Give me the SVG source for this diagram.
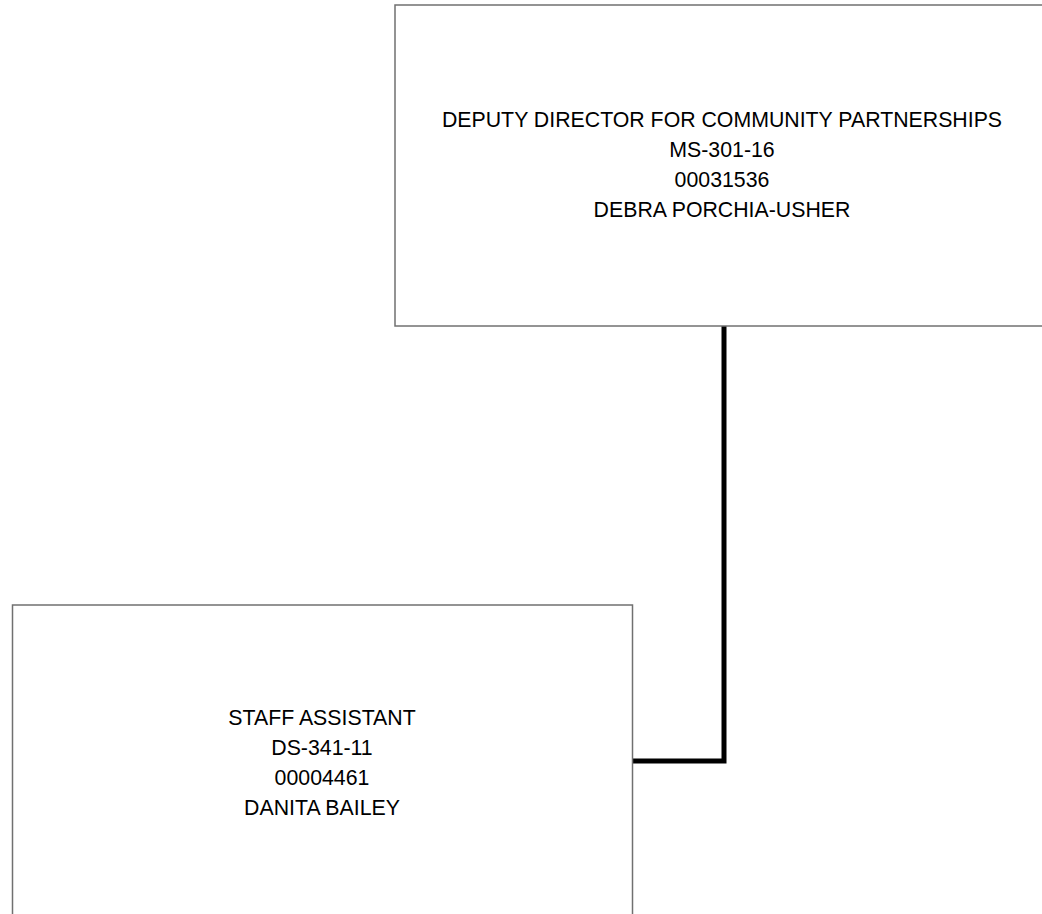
<svg xmlns="http://www.w3.org/2000/svg" width="1042" height="914" viewBox="0 0 1042 914">
  <style>
    .box { fill: #ffffff; stroke: #707070; stroke-width: 1.5; }
    .lbl { font-family: "Liberation Sans", Arial, sans-serif; font-size: 21.3px; fill: #000000; text-anchor: middle; }
    .conn { fill: none; stroke: #000000; stroke-width: 5; stroke-linejoin: miter; }
  </style>
  <rect width="1042" height="914" fill="#ffffff"/>
  <g id="connectors">
    <polyline class="conn" points="724,326 724,761 632,761"/>
  </g>
  <g id="node-deputy-director">
    <rect class="box" x="395" y="5" width="660" height="321"/>
    <text class="lbl" x="722" y="127">DEPUTY DIRECTOR FOR COMMUNITY PARTNERSHIPS</text>
    <text class="lbl" x="722" y="157">MS-301-16</text>
    <text class="lbl" x="722" y="187">00031536</text>
    <text class="lbl" x="722" y="217">DEBRA PORCHIA-USHER</text>
  </g>
  <g id="node-staff-assistant">
    <rect class="box" x="12.5" y="605" width="620" height="320"/>
    <text class="lbl" x="322" y="725">STAFF ASSISTANT</text>
    <text class="lbl" x="322" y="755">DS-341-11</text>
    <text class="lbl" x="322" y="785">00004461</text>
    <text class="lbl" x="322" y="815">DANITA BAILEY</text>
  </g>
</svg>
